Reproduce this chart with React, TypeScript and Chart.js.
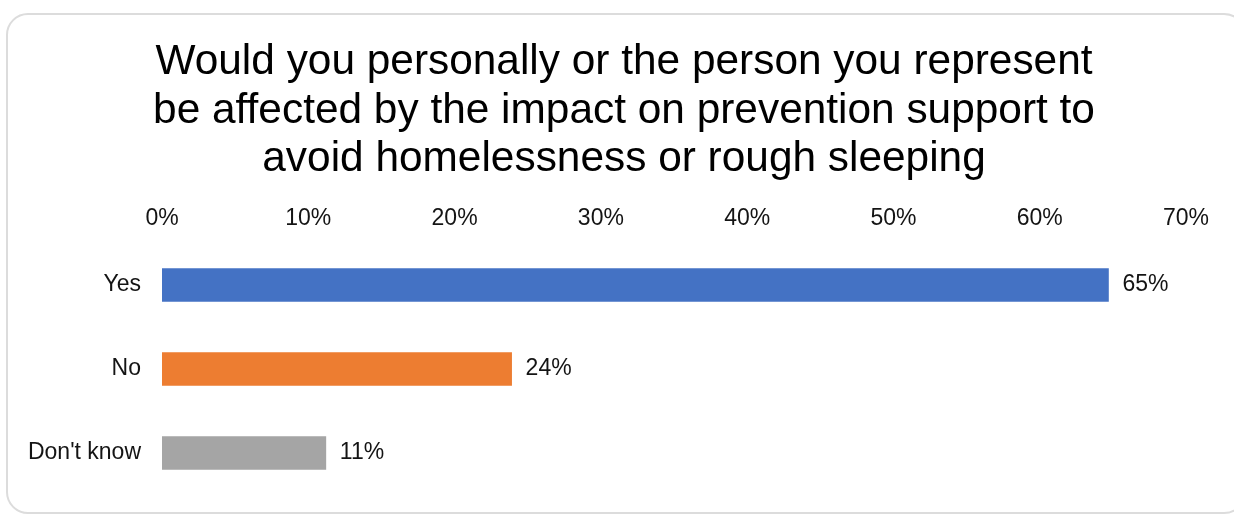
import React, { useEffect, useRef } from "react";
import { Chart, registerables } from "chart.js";

Chart.register(...registerables);

const titleLines = [
  "Would you personally or the person you represent",
  "be affected by the impact on prevention support to",
  "avoid homelessness or rough sleeping",
];
const categories = ["Yes", "No", "Don't know"];
const values = [64.7, 23.9, 11.2];
const barColors = ["#4472C4", "#ED7D31", "#A5A5A5"];
const xTicks = [0, 10, 20, 30, 40, 50, 60, 70];

const FONT = "'Liberation Sans', Arial, sans-serif";
const TITLE_SIZE = 42.4;
const TITLE_LH = 1.145;
const TOP_PAD = 38;

const valueLabels = {
  id: "valueLabels",
  afterLayout(chart: any) {
    const t = chart.titleBlock;
    if (t) {
      t.left += 26;
      t.right += 26;
    }
  },
  afterDatasetsDraw(chart: any) {
    const ctx = chart.ctx;
    const meta = chart.getDatasetMeta(0);
    ctx.save();
    ctx.font = `23px ${FONT}`;
    ctx.fillStyle = "#141414";
    ctx.textAlign = "left";
    ctx.textBaseline = "middle";
    meta.data.forEach((bar: any, i: number) => {
      const v = chart.data.datasets[0].data[i] as number;
      ctx.fillText(`${Math.round(v)}%`, bar.x + 14, bar.y);
    });
    ctx.restore();
  },
};

export default function App() {
  const ref = useRef<HTMLCanvasElement | null>(null);
  useEffect(() => {
    if (!ref.current) return;
    const chart = new Chart(ref.current, {
      type: "bar",
      data: {
        labels: categories,
        datasets: [
          {
            data: values,
            backgroundColor: barColors,
            borderWidth: 0,
            barThickness: 33,
          },
        ],
      },
      plugins: [valueLabels],
      options: {
        indexAxis: "y",
        animation: false,
        responsive: false,
        maintainAspectRatio: false,
        layout: { padding: { top: TOP_PAD, left: 10, right: 48, bottom: 21 } },
        plugins: {
          legend: { display: false },
          tooltip: { enabled: false },
          title: {
            display: true,
            text: titleLines,
            color: "#000",
            font: { family: FONT, size: TITLE_SIZE, weight: "normal", lineHeight: TITLE_LH },
            padding: { top: 0, bottom: 0 },
          },
        },
        scales: {
          x: {
            position: "top",
            min: 0,
            max: 70,
            afterBuildTicks: (axis: any) => {
              axis.ticks = xTicks.map((v) => ({ value: v }));
            },
            afterFit: (axis: any) => {
              axis.height = 243 - (TOP_PAD + 3 * TITLE_SIZE * TITLE_LH);
              axis.paddingLeft = 0;
              axis.paddingRight = 0;
            },
            grid: { display: false, drawTicks: false },
            border: { display: false },
            ticks: {
              padding: 11,
              color: "#141414",
              font: { family: FONT, size: 23 },
              callback: (v: any) => `${v}%`,
            },
          },
          y: {
            afterFit: (axis: any) => {
              axis.width = 152;
              axis.paddingTop = 0;
              axis.paddingBottom = 0;
            },
            grid: { display: false, drawTicks: false },
            border: { display: false },
            ticks: {
              padding: 21,
              color: "#141414",
              font: { family: FONT, size: 23 },
            },
          },
        },
      },
    });
    return () => chart.destroy();
  }, []);

  return (
    <div style={{ position: "fixed", left: 0, top: 0, width: 1234, height: 516, background: "#fff", overflow: "hidden" }}>
      <div
        style={{
          position: "absolute",
          left: 6,
          top: 13,
          width: 1240,
          height: 501,
          border: "2px solid #dcdcdc",
          borderRadius: 22,
          boxSizing: "border-box",
        }}
      />
      <canvas ref={ref} width={1234} height={516} style={{ position: "absolute", left: 0, top: 0, width: 1234, height: 516 }} />
    </div>
  );
}
